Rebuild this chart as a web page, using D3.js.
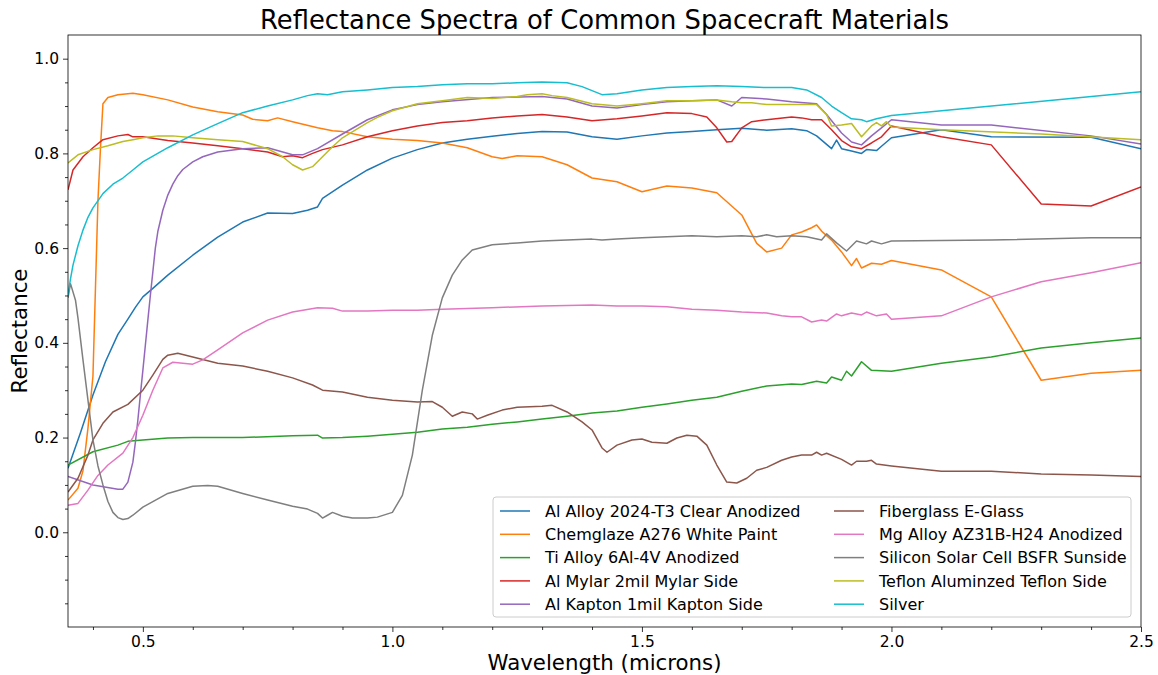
<!DOCTYPE html>
<html>
<head>
<meta charset="utf-8">
<script src="https://cdn.jsdelivr.net/npm/d3@7"></script>
<style>
  body { margin: 0; background: #fff; }
  text { font-family: "DejaVu Sans", sans-serif; fill: #000; }
</style>
</head>
<body>
<div id="chart"></div>
<script>
// series names, legend order
const seriesNames = [
  "Al Alloy 2024-T3 Clear Anodized",
  "Chemglaze A276 White Paint",
  "Ti Alloy 6Al-4V Anodized",
  "Al Mylar 2mil Mylar Side",
  "Al Kapton 1mil Kapton Side",
  "Fiberglass E-Glass",
  "Mg Alloy AZ31B-H24 Anodized",
  "Silicon Solar Cell BSFR Sunside",
  "Teflon Aluminzed Teflon Side",
  "Silver"
];

// [wavelength (microns), reflectance]
const alAlloy = [[0.35,0.135],[0.375,0.21],[0.4,0.29],[0.425,0.36],[0.45,0.418],[0.47,0.45],[0.485,0.475],[0.5,0.497],[0.52,0.515],[0.55,0.543],[0.6,0.585],[0.65,0.623],[0.7,0.655],[0.75,0.674],[0.8,0.673],[0.83,0.68],[0.85,0.687],[0.86,0.705],[0.9,0.733],[0.95,0.765],[1.0,0.79],[1.05,0.808],[1.1,0.822],[1.15,0.83],[1.2,0.836],[1.25,0.842],[1.3,0.846],[1.35,0.845],[1.4,0.835],[1.45,0.83],[1.5,0.837],[1.55,0.843],[1.6,0.846],[1.65,0.85],[1.7,0.853],[1.75,0.849],[1.8,0.852],[1.83,0.848],[1.85,0.837],[1.88,0.81],[1.89,0.828],[1.9,0.81],[1.92,0.805],[1.94,0.8],[1.95,0.808],[1.97,0.806],[1.98,0.815],[2.0,0.833],[2.1,0.85],[2.2,0.835],[2.4,0.834],[2.5,0.81]];
const chemglaze = [[0.35,0.068],[0.37,0.093],[0.38,0.13],[0.39,0.22],[0.4,0.33],[0.41,0.7],[0.415,0.81],[0.42,0.905],[0.43,0.918],[0.45,0.924],[0.48,0.927],[0.5,0.924],[0.55,0.913],[0.6,0.898],[0.65,0.888],[0.7,0.881],[0.72,0.872],[0.75,0.869],[0.77,0.875],[0.8,0.867],[0.85,0.854],[0.88,0.848],[0.9,0.846],[0.95,0.835],[1.0,0.83],[1.05,0.827],[1.1,0.822],[1.15,0.812],[1.2,0.793],[1.22,0.789],[1.25,0.795],[1.3,0.793],[1.35,0.776],[1.4,0.748],[1.45,0.74],[1.5,0.719],[1.55,0.731],[1.6,0.727],[1.65,0.717],[1.7,0.67],[1.73,0.61],[1.75,0.592],[1.78,0.6],[1.8,0.628],[1.82,0.634],[1.84,0.643],[1.85,0.649],[1.86,0.636],[1.88,0.617],[1.9,0.592],[1.92,0.563],[1.93,0.578],[1.94,0.558],[1.96,0.568],[1.98,0.566],[2.0,0.574],[2.1,0.554],[2.2,0.497],[2.3,0.321],[2.4,0.336],[2.5,0.342]];
const tiAlloy = [[0.35,0.142],[0.4,0.17],[0.45,0.184],[0.47,0.192],[0.5,0.195],[0.55,0.199],[0.6,0.2],[0.7,0.2],[0.8,0.204],[0.85,0.205],[0.86,0.199],[0.9,0.2],[0.95,0.203],[1.0,0.207],[1.05,0.211],[1.1,0.218],[1.15,0.222],[1.2,0.228],[1.25,0.233],[1.3,0.239],[1.35,0.245],[1.4,0.252],[1.45,0.256],[1.5,0.264],[1.55,0.271],[1.6,0.279],[1.65,0.285],[1.7,0.298],[1.75,0.309],[1.8,0.313],[1.82,0.312],[1.85,0.319],[1.87,0.315],[1.88,0.328],[1.9,0.321],[1.91,0.34],[1.92,0.33],[1.94,0.36],[1.96,0.342],[1.98,0.341],[2.0,0.34],[2.1,0.357],[2.2,0.37],[2.3,0.389],[2.4,0.4],[2.5,0.41]];
const alMylar = [[0.35,0.723],[0.36,0.765],[0.38,0.793],[0.4,0.812],[0.42,0.829],[0.45,0.837],[0.47,0.84],[0.48,0.835],[0.5,0.835],[0.55,0.827],[0.6,0.822],[0.65,0.816],[0.7,0.81],[0.75,0.803],[0.78,0.793],[0.8,0.795],[0.82,0.791],[0.84,0.8],[0.86,0.808],[0.9,0.818],[0.95,0.835],[1.0,0.848],[1.05,0.858],[1.1,0.865],[1.15,0.869],[1.2,0.875],[1.25,0.879],[1.3,0.882],[1.35,0.877],[1.4,0.869],[1.45,0.873],[1.5,0.879],[1.55,0.886],[1.6,0.884],[1.63,0.877],[1.65,0.854],[1.67,0.824],[1.68,0.825],[1.7,0.854],[1.72,0.867],[1.75,0.871],[1.8,0.877],[1.82,0.875],[1.84,0.871],[1.86,0.871],[1.88,0.85],[1.9,0.827],[1.92,0.814],[1.94,0.81],[1.96,0.822],[1.98,0.835],[2.0,0.858],[2.1,0.835],[2.2,0.818],[2.3,0.693],[2.4,0.689],[2.5,0.729]];
const alKapton = [[0.35,0.118],[0.4,0.1],[0.45,0.091],[0.46,0.091],[0.47,0.106],[0.48,0.148],[0.485,0.19],[0.49,0.237],[0.495,0.29],[0.5,0.342],[0.505,0.395],[0.51,0.448],[0.515,0.5],[0.52,0.55],[0.525,0.6],[0.53,0.635],[0.54,0.68],[0.55,0.712],[0.56,0.735],[0.57,0.753],[0.58,0.766],[0.6,0.782],[0.62,0.793],[0.65,0.803],[0.7,0.81],[0.75,0.812],[0.8,0.797],[0.82,0.797],[0.85,0.81],[0.9,0.841],[0.95,0.871],[1.0,0.892],[1.05,0.903],[1.1,0.909],[1.2,0.918],[1.3,0.92],[1.35,0.915],[1.4,0.9],[1.45,0.896],[1.5,0.903],[1.55,0.909],[1.6,0.911],[1.65,0.913],[1.68,0.9],[1.7,0.918],[1.75,0.915],[1.8,0.909],[1.85,0.905],[1.87,0.882],[1.9,0.843],[1.92,0.824],[1.94,0.818],[1.96,0.837],[1.98,0.854],[2.0,0.871],[2.1,0.86],[2.2,0.86],[2.4,0.837],[2.5,0.82]];
const fiberglass = [[0.35,0.085],[0.37,0.114],[0.39,0.163],[0.4,0.195],[0.42,0.23],[0.44,0.254],[0.47,0.27],[0.5,0.3],[0.52,0.332],[0.54,0.365],[0.55,0.374],[0.57,0.378],[0.6,0.37],[0.65,0.357],[0.7,0.351],[0.75,0.34],[0.8,0.326],[0.84,0.311],[0.86,0.3],[0.9,0.296],[0.95,0.285],[1.0,0.279],[1.05,0.275],[1.08,0.276],[1.1,0.264],[1.12,0.245],[1.14,0.254],[1.16,0.25],[1.17,0.239],[1.19,0.247],[1.22,0.258],[1.25,0.264],[1.3,0.266],[1.32,0.268],[1.35,0.254],[1.38,0.233],[1.4,0.216],[1.42,0.178],[1.43,0.169],[1.45,0.184],[1.48,0.195],[1.5,0.197],[1.52,0.19],[1.55,0.188],[1.57,0.199],[1.59,0.205],[1.61,0.203],[1.63,0.184],[1.65,0.142],[1.67,0.106],[1.69,0.104],[1.71,0.114],[1.73,0.131],[1.75,0.137],[1.78,0.152],[1.8,0.159],[1.82,0.163],[1.84,0.163],[1.85,0.169],[1.86,0.163],[1.87,0.167],[1.9,0.154],[1.92,0.142],[1.93,0.15],[1.95,0.15],[1.96,0.152],[1.97,0.144],[2.0,0.14],[2.1,0.129],[2.2,0.129],[2.3,0.123],[2.4,0.121],[2.5,0.118]];
const mgAlloy = [[0.35,0.057],[0.37,0.061],[0.39,0.089],[0.41,0.12],[0.43,0.142],[0.46,0.167],[0.48,0.2],[0.5,0.247],[0.52,0.3],[0.54,0.347],[0.56,0.359],[0.58,0.357],[0.6,0.355],[0.62,0.364],[0.65,0.385],[0.7,0.421],[0.75,0.448],[0.8,0.465],[0.85,0.474],[0.88,0.473],[0.9,0.467],[0.95,0.467],[1.0,0.469],[1.05,0.469],[1.1,0.471],[1.2,0.474],[1.3,0.478],[1.4,0.48],[1.45,0.478],[1.5,0.478],[1.55,0.476],[1.6,0.471],[1.65,0.469],[1.7,0.465],[1.75,0.463],[1.78,0.457],[1.8,0.455],[1.82,0.455],[1.84,0.444],[1.86,0.448],[1.87,0.446],[1.89,0.461],[1.9,0.457],[1.92,0.463],[1.94,0.459],[1.95,0.465],[1.97,0.457],[1.99,0.461],[2.0,0.45],[2.1,0.457],[2.2,0.497],[2.3,0.529],[2.4,0.548],[2.5,0.569]];
const solarCell = [[0.35,0.495],[0.355,0.525],[0.365,0.49],[0.37,0.452],[0.38,0.364],[0.39,0.279],[0.4,0.195],[0.41,0.14],[0.42,0.1],[0.43,0.065],[0.44,0.042],[0.45,0.031],[0.46,0.027],[0.47,0.029],[0.48,0.036],[0.5,0.053],[0.55,0.082],[0.6,0.097],[0.63,0.099],[0.65,0.097],[0.7,0.082],[0.75,0.068],[0.8,0.055],[0.83,0.049],[0.85,0.04],[0.86,0.03],[0.87,0.036],[0.88,0.042],[0.9,0.034],[0.92,0.03],[0.95,0.03],[0.97,0.032],[1.0,0.042],[1.02,0.078],[1.04,0.163],[1.06,0.3],[1.08,0.416],[1.1,0.495],[1.12,0.543],[1.14,0.575],[1.16,0.596],[1.2,0.607],[1.25,0.611],[1.3,0.615],[1.35,0.617],[1.4,0.619],[1.42,0.617],[1.45,0.619],[1.5,0.622],[1.55,0.624],[1.6,0.626],[1.65,0.624],[1.7,0.626],[1.73,0.624],[1.75,0.628],[1.77,0.624],[1.8,0.626],[1.83,0.624],[1.86,0.617],[1.87,0.63],[1.89,0.611],[1.91,0.594],[1.93,0.615],[1.95,0.609],[1.96,0.615],[1.98,0.609],[2.0,0.615],[2.2,0.617],[2.4,0.622],[2.5,0.622]];
const teflon = [[0.35,0.78],[0.37,0.797],[0.4,0.808],[0.43,0.816],[0.46,0.825],[0.48,0.829],[0.5,0.833],[0.53,0.837],[0.56,0.837],[0.6,0.833],[0.65,0.829],[0.7,0.825],[0.75,0.81],[0.78,0.793],[0.8,0.776],[0.82,0.765],[0.84,0.772],[0.86,0.793],[0.88,0.814],[0.9,0.833],[0.95,0.865],[0.97,0.876],[1.0,0.89],[1.05,0.905],[1.1,0.911],[1.15,0.918],[1.2,0.916],[1.25,0.92],[1.27,0.924],[1.3,0.926],[1.32,0.922],[1.35,0.918],[1.4,0.905],[1.45,0.9],[1.5,0.905],[1.55,0.911],[1.6,0.911],[1.65,0.913],[1.68,0.909],[1.7,0.907],[1.72,0.907],[1.75,0.903],[1.8,0.903],[1.85,0.903],[1.87,0.882],[1.88,0.858],[1.9,0.86],[1.92,0.863],[1.94,0.835],[1.96,0.858],[1.97,0.865],[1.98,0.858],[1.99,0.867],[2.0,0.856],[2.1,0.85],[2.3,0.841],[2.5,0.829]];
const silver = [[0.35,0.501],[0.355,0.535],[0.36,0.564],[0.37,0.605],[0.38,0.638],[0.39,0.665],[0.4,0.685],[0.42,0.715],[0.44,0.735],[0.46,0.748],[0.48,0.765],[0.5,0.782],[0.55,0.812],[0.6,0.839],[0.65,0.863],[0.7,0.886],[0.75,0.9],[0.8,0.913],[0.83,0.922],[0.85,0.926],[0.87,0.924],[0.9,0.93],[0.95,0.934],[1.0,0.939],[1.05,0.941],[1.1,0.945],[1.15,0.947],[1.2,0.947],[1.25,0.949],[1.3,0.951],[1.35,0.949],[1.38,0.941],[1.42,0.924],[1.45,0.926],[1.5,0.934],[1.55,0.939],[1.6,0.941],[1.65,0.943],[1.7,0.941],[1.75,0.939],[1.8,0.939],[1.83,0.934],[1.86,0.918],[1.88,0.9],[1.9,0.886],[1.92,0.873],[1.94,0.871],[1.95,0.867],[1.97,0.873],[2.0,0.88],[2.5,0.93]];

const seriesData = [alAlloy, chemglaze, tiAlloy, alMylar, alKapton, fiberglass, mgAlloy, solarCell, teflon, silver];
const xTicks = [0.5, 1.0, 1.5, 2.0, 2.5];
const yTicks = [0.0, 0.2, 0.4, 0.6, 0.8, 1.0];

const colors = d3.schemeCategory10;
const width = 1158, height = 675;
const margin = {top: 35, right: 17, bottom: 48, left: 68};
const innerW = width - margin.left - margin.right;
const innerH = height - margin.top - margin.bottom;

const svg = d3.select("#chart").append("svg")
    .attr("width", width)
    .attr("height", height);

const x = d3.scaleLinear().domain([0.35, 2.5]).range([0, innerW]);
const y = d3.scaleLinear().domain([-0.2, 1.05]).range([innerH, 0]);

const g = svg.append("g").attr("transform", `translate(${margin.left},${margin.top})`);

g.append("clipPath").attr("id", "clip")
  .append("rect").attr("width", innerW).attr("height", innerH);

//Draw the spectra
const line = d3.line().x(d => x(d[0])).y(d => y(d[1]));
g.append("g").attr("clip-path", "url(#clip)")
  .selectAll("path")
  .data(seriesData)
  .enter()
  .append("path")
  .attr("d", line)
  .attr("fill", "none")
  .attr("stroke", (d, i) => colors[i])
  .attr("stroke-width", 1.5)
  .attr("stroke-linejoin", "round");

//Axes with minor ticks
g.append("g").attr("transform", `translate(0,${innerH})`)
    .call(d3.axisBottom(x).tickValues(xTicks).tickFormat(d3.format(".1f")).tickSize(5).tickPadding(4));
g.append("g").attr("transform", `translate(0,${innerH})`)
    .call(d3.axisBottom(x).tickValues(d3.range(0.4, 2.5, 0.1).filter(v => Math.abs(v * 2 - Math.round(v * 2)) > 0.01)).tickFormat("").tickSize(3));
g.append("g")
    .call(d3.axisLeft(y).tickValues(yTicks).tickFormat(d3.format(".1f")).tickSize(5).tickPadding(4));
g.append("g")
    .call(d3.axisLeft(y).tickValues(d3.range(-0.15, 1.05, 0.05).filter(v => Math.abs(v * 5 - Math.round(v * 5)) > 0.01)).tickFormat("").tickSize(3));

g.selectAll(".domain").remove();
g.selectAll(".tick line").attr("stroke", "#000").attr("stroke-width", 0.8);
g.selectAll(".tick text").style("font-family", "DejaVu Sans").style("font-size", "15.5px").attr("fill", "#000");

g.append("rect")
  .attr("width", innerW).attr("height", innerH)
  .attr("fill", "none").attr("stroke", "#000").attr("stroke-width", 0.8);

//Titles
svg.append("text")
  .attr("x", margin.left + innerW / 2).attr("y", 29)
  .attr("text-anchor", "middle")
  .style("font-size", "25.8px")
  .text("Reflectance Spectra of Common Spacecraft Materials");
svg.append("text")
  .attr("x", margin.left + innerW / 2).attr("y", 670)
  .attr("text-anchor", "middle")
  .style("font-size", "21.3px")
  .text("Wavelength (microns)");
svg.append("text")
  .attr("transform", `translate(27,${margin.top + innerH / 2}) rotate(-90)`)
  .attr("text-anchor", "middle")
  .style("font-size", "21.3px")
  .text("Reflectance");

//Legend
const legend = svg.append("g").attr("transform", "translate(493,497)");
legend.append("rect")
  .attr("width", 638).attr("height", 120).attr("rx", 3)
  .attr("fill", "#fff").attr("fill-opacity", 0.8)
  .attr("stroke", "#ccc").attr("stroke-width", 1);
const item = legend.selectAll(".item")
  .data(seriesNames)
  .enter()
  .append("g")
  .attr("class", "item")
  .attr("transform", (d, i) => `translate(${i < 5 ? 7 : 341},${14 + (i % 5) * 23.3})`);
item.append("line")
  .attr("x1", 0).attr("x2", 30)
  .attr("stroke", (d, i) => colors[i]).attr("stroke-width", 1.5);
item.append("text")
  .attr("x", 45).attr("dy", "0.35em")
  .style("font-size", "16px")
  .text(d => d);
</script>
</body>
</html>
